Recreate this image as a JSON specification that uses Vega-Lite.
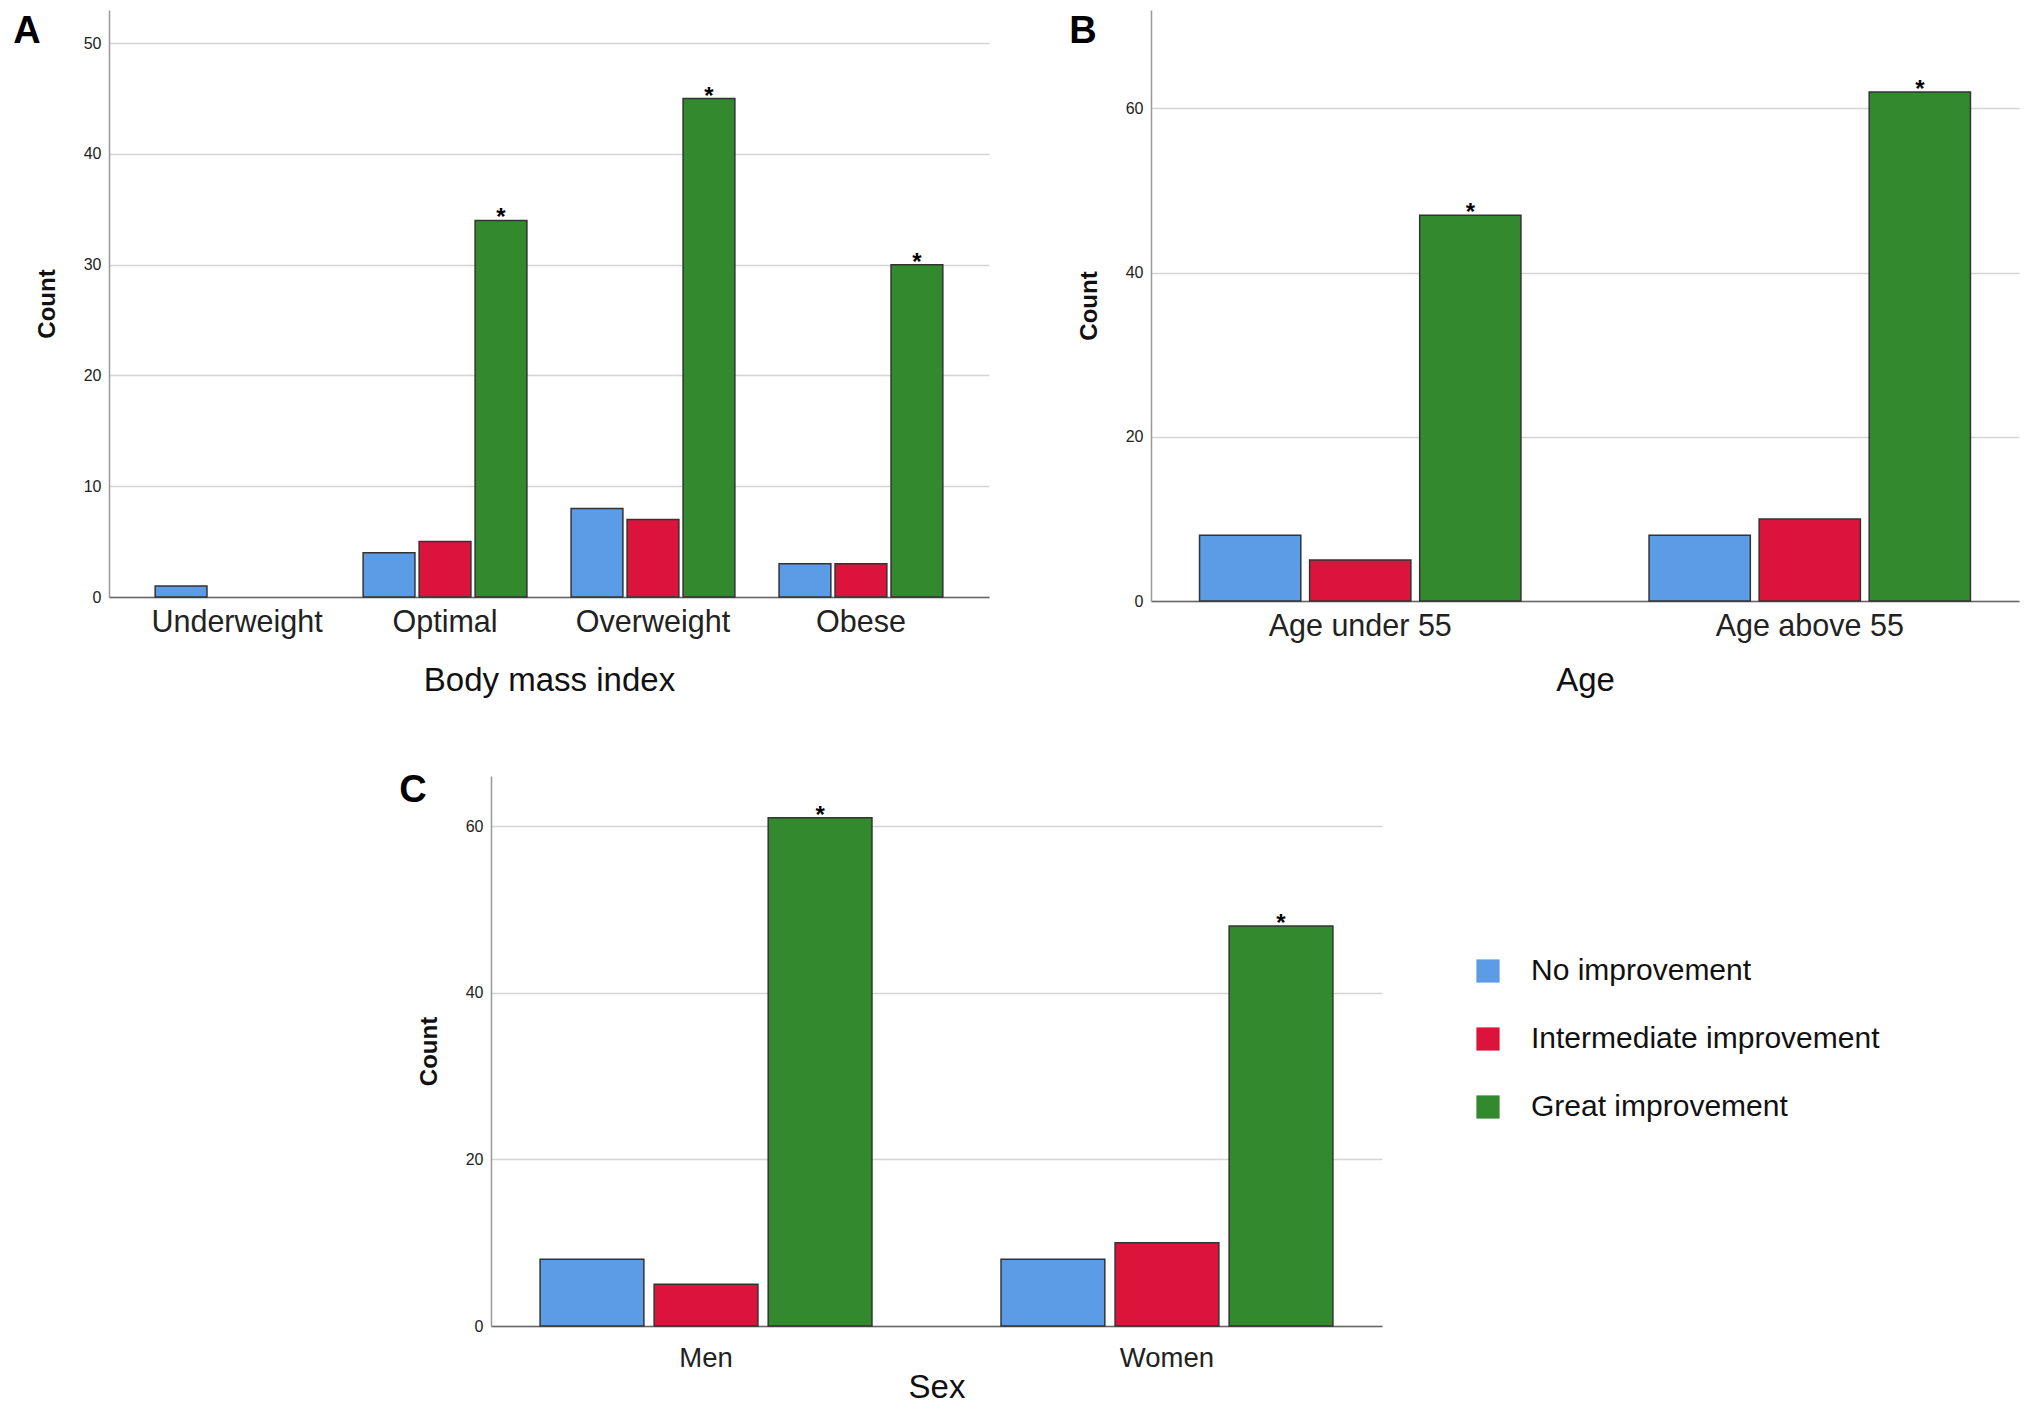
{
  "$schema": "https://vega.github.io/schema/vega-lite/v6.json",
  "background": "white",
  "padding": {"left": 13, "top": 10, "right": 5, "bottom": 5},
  "datasets": {
    "bmi": [
      {"bmi": "Underweight", "group": "No improvement", "count": 1},
      {"bmi": "Optimal", "group": "No improvement", "count": 4},
      {"bmi": "Optimal", "group": "Intermediate improvement", "count": 5},
      {"bmi": "Optimal", "group": "Great improvement", "count": 34},
      {"bmi": "Overweight", "group": "No improvement", "count": 8},
      {"bmi": "Overweight", "group": "Intermediate improvement", "count": 7},
      {"bmi": "Overweight", "group": "Great improvement", "count": 45},
      {"bmi": "Obese", "group": "No improvement", "count": 3},
      {"bmi": "Obese", "group": "Intermediate improvement", "count": 3},
      {"bmi": "Obese", "group": "Great improvement", "count": 30}
    ],
    "age": [
      {"age": "Age under 55", "group": "No improvement", "count": 8},
      {"age": "Age under 55", "group": "Intermediate improvement", "count": 5},
      {"age": "Age under 55", "group": "Great improvement", "count": 47},
      {"age": "Age above 55", "group": "No improvement", "count": 8},
      {"age": "Age above 55", "group": "Intermediate improvement", "count": 10},
      {"age": "Age above 55", "group": "Great improvement", "count": 62}
    ],
    "sex": [
      {"sex": "Men", "group": "No improvement", "count": 8},
      {"sex": "Men", "group": "Intermediate improvement", "count": 5},
      {"sex": "Men", "group": "Great improvement", "count": 61},
      {"sex": "Women", "group": "No improvement", "count": 8},
      {"sex": "Women", "group": "Intermediate improvement", "count": 10},
      {"sex": "Women", "group": "Great improvement", "count": 48}
    ]
  },
  "config": {
    "view": {"stroke": null},
    "font": "Liberation Sans",
    "axis": {
      "labelFont": "Liberation Sans",
      "titleFont": "Liberation Sans",
      "labelColor": "#222",
      "titleColor": "#111",
      "ticks": false,
      "domainColor": "#999",
      "domainWidth": 1.5,
      "gridColor": "#d4d4d4",
      "gridWidth": 1.5
    },
    "axisX": {
      "grid": false,
      "labelFontSize": 30.5,
      "labelLimit": 0,
      "titleFontSize": 33,
      "titleFontWeight": "normal",
      "labelPadding": 10,
      "titlePadding": 27,
      "labelAngle": 0,
      "domainColor": "#666"
    },
    "axisY": {
      "labelFontSize": 16,
      "titleFontSize": 24,
      "titleFontWeight": "bold",
      "labelPadding": 8,
      "titlePadding": 24
    },
    "title": {"fontSize": 38, "fontWeight": "bold", "font": "Liberation Sans", "color": "#000"}
  },
  "resolve": {"scale": {"color": "independent", "x": "independent", "y": "independent", "xOffset": "independent"}},
  "spacing": 74,
  "vconcat": [
    {
      "spacing": 80,
      "resolve": {"scale": {"x": "independent", "y": "independent", "xOffset": "independent"}},
      "hconcat": [
        {
          "width": 880,
          "height": 587,
          "title": {"text": "A", "anchor": "start", "frame": "bounds", "offset": -41, "dx": -22},
          "data": {"name": "bmi"},
          "encoding": {
            "x": {"field": "bmi", "type": "nominal", "scale": {"domain": ["Underweight", "Optimal", "Overweight", "Obese"], "paddingInner": 0.2125, "paddingOuter": 0.222}, "axis": {"title": "Body mass index"}},
            "xOffset": {"field": "group", "type": "nominal", "scale": {"domain": ["No improvement", "Intermediate improvement", "Great improvement"], "paddingInner": 0.075, "paddingOuter": 0}},
            "y": {"field": "count", "type": "quantitative", "scale": {"domain": [0, 53], "nice": false}, "axis": {"values": [0, 10, 20, 30, 40, 50], "title": "Count"}}
          },
          "layer": [
            {
              "mark": {"type": "bar", "stroke": "#333", "strokeWidth": 1.5},
              "encoding": {"color": {"field": "group", "type": "nominal", "scale": {"domain": ["No improvement", "Intermediate improvement", "Great improvement"], "range": ["#5c9ce6", "#dc143c", "#338a2e"]}, "legend": null}}
            },
            {
              "transform": [{"filter": "datum.group === 'Great improvement'"}],
              "mark": {"type": "text", "text": "*", "baseline": "alphabetic", "dy": 5, "fontSize": 24, "fontWeight": "bold", "color": "#000"},
              "encoding": {}
            }
          ]
        },
        {
          "width": 868,
          "height": 591,
          "title": {"text": "B", "anchor": "start", "frame": "bounds", "offset": -41, "dx": -8},
          "data": {"name": "age"},
          "encoding": {
            "x": {"field": "age", "type": "nominal", "scale": {"domain": ["Age under 55", "Age above 55"], "paddingInner": 0.285, "paddingOuter": 0.108}, "axis": {"title": "Age", "titlePadding": 23}},
            "xOffset": {"field": "group", "type": "nominal", "scale": {"domain": ["No improvement", "Intermediate improvement", "Great improvement"], "paddingInner": 0.08, "paddingOuter": 0}},
            "y": {"field": "count", "type": "quantitative", "scale": {"domain": [0, 72], "nice": false}, "axis": {"values": [0, 20, 40, 60], "title": "Count"}}
          },
          "layer": [
            {
              "mark": {"type": "bar", "stroke": "#333", "strokeWidth": 1.5},
              "encoding": {"color": {"field": "group", "type": "nominal", "scale": {"domain": ["No improvement", "Intermediate improvement", "Great improvement"], "range": ["#5c9ce6", "#dc143c", "#338a2e"]}, "legend": null}}
            },
            {
              "transform": [{"filter": "datum.group === 'Great improvement'"}],
              "mark": {"type": "text", "text": "*", "baseline": "alphabetic", "dy": 5, "fontSize": 24, "fontWeight": "bold", "color": "#000"},
              "encoding": {}
            }
          ]
        }
      ]
    },
    {
      "spacing": 10,
      "resolve": {"scale": {"color": "independent", "x": "independent", "y": "independent", "xOffset": "independent"}},
      "hconcat": [
        {
          "width": 280,
          "height": 10,
          "data": {"values": []},
          "mark": "rect"
        },
        {
          "width": 891,
          "height": 550,
          "title": {"text": "C", "anchor": "start", "frame": "bounds", "offset": -34, "dx": -18},
          "data": {"name": "sex"},
          "encoding": {
            "x": {"field": "sex", "type": "nominal", "scale": {"domain": ["Men", "Women"], "paddingInner": 0.28, "paddingOuter": 0.1065}, "axis": {"title": "Sex", "labelFontSize": 27.5, "labelPadding": 18, "titlePadding": 0}},
            "xOffset": {"field": "group", "type": "nominal", "scale": {"domain": ["No improvement", "Intermediate improvement", "Great improvement"], "paddingInner": 0.09, "paddingOuter": 0}},
            "y": {"field": "count", "type": "quantitative", "scale": {"domain": [0, 66], "nice": false}, "axis": {"values": [0, 20, 40, 60], "title": "Count"}}
          },
          "layer": [
            {
              "mark": {"type": "bar", "stroke": "#333", "strokeWidth": 1.5},
              "encoding": {"color": {"field": "group", "type": "nominal", "scale": {"domain": ["No improvement", "Intermediate improvement", "Great improvement"], "range": ["#5c9ce6", "#dc143c", "#338a2e"]}, "legend": {"title": null, "orient": "none", "legendX": 982, "legendY": 180, "symbolType": "square", "symbolSize": 540, "symbolStrokeWidth": 0, "labelFontSize": 30, "labelFont": "Liberation Sans", "labelColor": "#111", "labelOffset": 28, "labelLimit": 800, "rowPadding": 38}}}
            },
            {
              "transform": [{"filter": "datum.group === 'Great improvement'"}],
              "mark": {"type": "text", "text": "*", "baseline": "alphabetic", "dy": 5, "fontSize": 24, "fontWeight": "bold", "color": "#000"},
              "encoding": {}
            }
          ]
        }
      ]
    }
  ]
}
